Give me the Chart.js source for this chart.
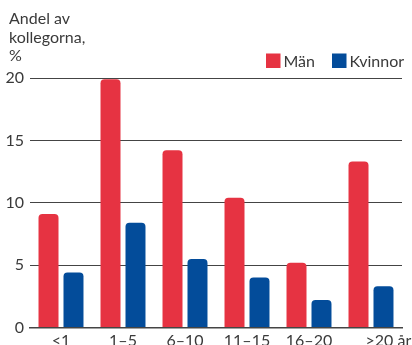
<!DOCTYPE html>
<html>
<head>
<meta charset="utf-8">
<script src="https://cdn.jsdelivr.net/npm/chart.js@4.4.1/dist/chart.umd.min.js"></script>
<style>
html,body{margin:0;padding:0;background:#fff;}
#wrap{width:412px;height:345px;position:relative;}
</style>
</head>
<body>
<div id="wrap"><canvas id="c" width="412" height="345"></canvas></div>
<script>
const categories = ['<1', '1–5', '6–10', '11–15', '16–20', '>20 år'];
const man = [9.1, 19.9, 14.2, 10.4, 5.2, 13.3];
const kvinnor = [4.4, 8.4, 5.5, 4.0, 2.2, 3.3];
const yTicks = [0, 5, 10, 15, 20];
const titleLines = ['Andel av', 'kollegorna,', '%'];
const seriesNames = ['Män', 'Kvinnor'];

const FONT = 'Lato, "Open Sans", sans-serif';
const TXT = '#3a3a3a';

const titlePlugin = {
  id: 'titleLines',
  afterDraw(chart) {
    const ctx = chart.ctx;
    ctx.save();
    ctx.font = '16px ' + FONT;
    ctx.fillStyle = TXT;
    ctx.textAlign = 'left';
    ctx.textBaseline = 'alphabetic';
    const base = [24, 42.5, 61];
    titleLines.forEach((t, i) => ctx.fillText(t, 9, base[i]));
    ctx.restore();
  }
};

const legendPlugin = {
  id: 'manualLegend',
  afterDraw(chart) {
    const ctx = chart.ctx;
    ctx.save();
    ctx.font = '16px ' + FONT;
    ctx.textAlign = 'left';
    ctx.textBaseline = 'alphabetic';
    const boxX = [266, 332];
    chart.data.datasets.forEach((ds, i) => {
      ctx.fillStyle = ds.backgroundColor;
      ctx.fillRect(boxX[i], 53.5, 14.5, 14.5);
      ctx.fillStyle = TXT;
      ctx.fillText(ds.label, boxX[i] + 17.5, 67);
    });
    ctx.restore();
  }
};

const xLabelPlugin = {
  id: 'xLabels',
  afterDraw(chart) {
    const ctx = chart.ctx;
    const xs = chart.scales.x;
    ctx.save();
    ctx.font = '16px ' + FONT;
    ctx.fillStyle = TXT;
    ctx.textBaseline = 'alphabetic';
    categories.forEach((c, i) => {
      const px = xs.getPixelForValue(i);
      if (i === categories.length - 1) {
        ctx.textAlign = 'left';
        ctx.fillText(c, px - 5.5, 346);
      } else {
        ctx.textAlign = 'center';
        ctx.fillText(c, px, 346);
      }
    });
    ctx.restore();
  }
};

new Chart(document.getElementById('c'), {
  type: 'bar',
  data: {
    labels: categories,
    datasets: [
      { label: seriesNames[0], data: man, backgroundColor: '#e63342',
        borderRadius: {topLeft: 4, topRight: 4, bottomLeft: 0, bottomRight: 0}, borderSkipped: false,
        categoryPercentage: 0.806, barPercentage: 0.8 },
      { label: seriesNames[1], data: kvinnor, backgroundColor: '#034c9a',
        borderRadius: {topLeft: 4, topRight: 4, bottomLeft: 0, bottomRight: 0}, borderSkipped: false,
        categoryPercentage: 0.806, barPercentage: 0.8 }
    ]
  },
  options: {
    responsive: false,
    devicePixelRatio: 1,
    animation: false,
    layout: { padding: { top: 78, left: 4, right: 10, bottom: 17.5 } },
    plugins: {
      title: { display: false },
      tooltip: { enabled: false },
      legend: { display: false }
    },
    scales: {
      x: {
        offset: true,
        grid: { display: false, drawTicks: false },
        border: { display: true, color: '#444', width: 1.5 },
        ticks: { display: false }
      },
      y: {
        min: 0, max: 20,
        afterBuildTicks(scale) { scale.ticks = yTicks.map(v => ({ value: v })); },
        afterFit(scale) { scale.width = 26; },
        grid: { color: '#444', lineWidth: 1, drawTicks: false },
        border: { display: false },
        ticks: { color: TXT, padding: 6, font: { family: FONT, size: 16 } }
      }
    }
  },
  plugins: [titlePlugin, legendPlugin, xLabelPlugin]
});
</script>
</body>
</html>
